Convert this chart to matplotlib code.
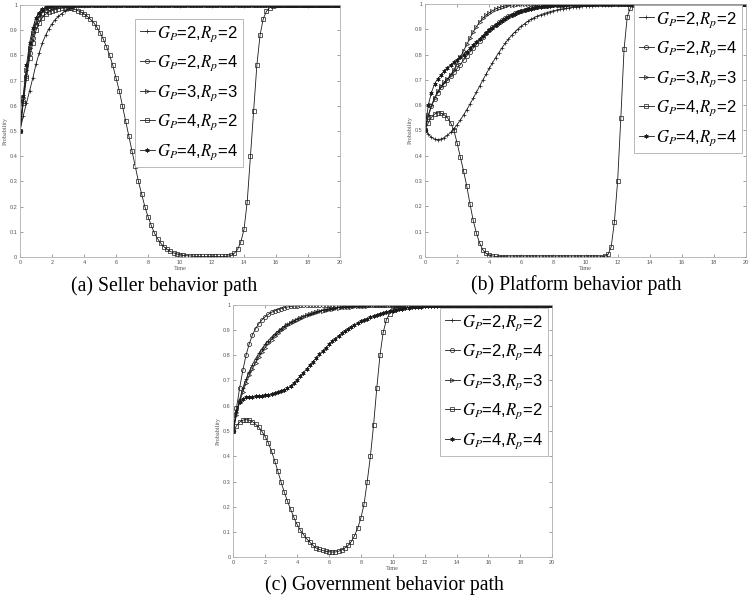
import numpy as np
import matplotlib
matplotlib.use("Agg")
import matplotlib.pyplot as plt

plt.rcParams['mathtext.fontset'] = 'stix'
plt.rcParams['font.family'] = ['Liberation Sans', 'DejaVu Sans']

# time grid, step 0.2 (each row below = 2 time units)
t = np.round(np.arange(0, 20.01, 0.2), 1)

labels = [r'$G_P$=2,$R_p$=2', r'$G_P$=2,$R_p$=4', r'$G_P$=3,$R_p$=3',
          r'$G_P$=4,$R_p$=2', r'$G_P$=4,$R_p$=4']
markers = ['+', 'o', '>', 's', (6, 2, 0)]
captions = ['(a) Seller behavior path', '(b) Platform behavior path',
            '(c) Government behavior path']

# ---- (a) seller
seller_2_2 = [0.5, 0.56, 0.61, 0.66, 0.71, 0.765, 0.81, 0.85, 0.88, 0.905,
              0.925, 0.942, 0.955, 0.966, 0.975, 0.983, 0.989, 0.993, 0.996, 0.998,
              1, 1, 1, 1, 1, 1, 1, 1, 1, 1,
              1, 1, 1, 1, 1, 1, 1, 1, 1, 1,
              1, 1, 1, 1, 1, 1, 1, 1, 1, 1,
              1, 1, 1, 1, 1, 1, 1, 1, 1, 1,
              1, 1, 1, 1, 1, 1, 1, 1, 1, 1,
              1, 1, 1, 1, 1, 1, 1, 1, 1, 1,
              1, 1, 1, 1, 1, 1, 1, 1, 1, 1,
              1, 1, 1, 1, 1, 1, 1, 1, 1, 1, 1]
seller_2_4 = [0.5, 0.62, 0.72, 0.81, 0.87, 0.92, 0.95, 0.97, 0.98, 0.988,
              0.992, 0.995, 0.997, 0.999, 1, 1, 1, 1, 1, 1,
              1, 1, 1, 1, 1, 1, 1, 1, 1, 1,
              1, 1, 1, 1, 1, 1, 1, 1, 1, 1,
              1, 1, 1, 1, 1, 1, 1, 1, 1, 1,
              1, 1, 1, 1, 1, 1, 1, 1, 1, 1,
              1, 1, 1, 1, 1, 1, 1, 1, 1, 1,
              1, 1, 1, 1, 1, 1, 1, 1, 1, 1,
              1, 1, 1, 1, 1, 1, 1, 1, 1, 1,
              1, 1, 1, 1, 1, 1, 1, 1, 1, 1, 1]
seller_3_3 = [0.5, 0.63, 0.74, 0.83, 0.89, 0.93, 0.96, 0.975, 0.985, 0.99,
              0.994, 0.997, 0.999, 1, 1, 1, 1, 1, 1, 1,
              1, 1, 1, 1, 1, 1, 1, 1, 1, 1,
              1, 1, 1, 1, 1, 1, 1, 1, 1, 1,
              1, 1, 1, 1, 1, 1, 1, 1, 1, 1,
              1, 1, 1, 1, 1, 1, 1, 1, 1, 1,
              1, 1, 1, 1, 1, 1, 1, 1, 1, 1,
              1, 1, 1, 1, 1, 1, 1, 1, 1, 1,
              1, 1, 1, 1, 1, 1, 1, 1, 1, 1,
              1, 1, 1, 1, 1, 1, 1, 1, 1, 1, 1]
seller_4_2 = [0.5, 0.61, 0.71, 0.79, 0.85, 0.9, 0.93, 0.95, 0.963, 0.972,
              0.978, 0.982, 0.985, 0.987, 0.988, 0.988, 0.986, 0.983, 0.978, 0.972,
              0.965, 0.955, 0.943, 0.93, 0.912, 0.89, 0.865, 0.835, 0.8, 0.76,
              0.71, 0.66, 0.6, 0.54, 0.48, 0.42, 0.36, 0.3, 0.25, 0.2,
              0.16, 0.125, 0.095, 0.072, 0.054, 0.04, 0.03, 0.022, 0.016, 0.012,
              0.009, 0.006, 0.005, 0.004, 0.003, 0.002, 0.002, 0.002, 0.002, 0.002,
              0.002, 0.002, 0.002, 0.002, 0.002, 0.003, 0.006, 0.015, 0.03, 0.06,
              0.11, 0.22, 0.4, 0.58, 0.76, 0.88, 0.945, 0.975, 0.989, 0.995,
              0.998, 1, 1, 1, 1, 1, 1, 1, 1, 1,
              1, 1, 1, 1, 1, 1, 1, 1, 1, 1, 1]
seller_4_4 = [0.5, 0.64, 0.76, 0.85, 0.91, 0.95, 0.97, 0.983, 0.99, 0.995,
              0.997, 0.999, 1, 1, 1, 1, 1, 1, 1, 1,
              1, 1, 1, 1, 1, 1, 1, 1, 1, 1,
              1, 1, 1, 1, 1, 1, 1, 1, 1, 1,
              1, 1, 1, 1, 1, 1, 1, 1, 1, 1,
              1, 1, 1, 1, 1, 1, 1, 1, 1, 1,
              1, 1, 1, 1, 1, 1, 1, 1, 1, 1,
              1, 1, 1, 1, 1, 1, 1, 1, 1, 1,
              1, 1, 1, 1, 1, 1, 1, 1, 1, 1,
              1, 1, 1, 1, 1, 1, 1, 1, 1, 1, 1]

# ---- (b) platform
platform_2_2 = [0.5, 0.485, 0.473, 0.466, 0.464, 0.466, 0.472, 0.481, 0.493, 0.507,
                0.523, 0.541, 0.561, 0.582, 0.604, 0.627, 0.651, 0.675, 0.699, 0.722,
                0.745, 0.767, 0.788, 0.808, 0.827, 0.845, 0.861, 0.876, 0.889, 0.901,
                0.912, 0.922, 0.931, 0.939, 0.946, 0.952, 0.957, 0.962, 0.966, 0.97,
                0.973, 0.976, 0.979, 0.981, 0.983, 0.985, 0.987, 0.988, 0.989, 0.99,
                0.991, 0.992, 0.993, 0.994, 0.995, 0.996, 0.996, 0.997, 0.997, 0.998,
                0.998, 0.998, 0.999, 0.999, 0.999, 1, 1, 1, 1, 1,
                1, 1, 1, 1, 1, 1, 1, 1, 1, 1,
                1, 1, 1, 1, 1, 1, 1, 1, 1, 1,
                1, 1, 1, 1, 1, 1, 1, 1, 1, 1, 1]
platform_2_4 = [0.5, 0.555, 0.595, 0.625, 0.65, 0.67, 0.685, 0.7, 0.715, 0.73,
                0.745, 0.76, 0.778, 0.795, 0.81, 0.825, 0.84, 0.855, 0.87, 0.885,
                0.897, 0.908, 0.918, 0.928, 0.937, 0.945, 0.952, 0.958, 0.964, 0.969,
                0.973, 0.977, 0.98, 0.983, 0.986, 0.988, 0.99, 0.992, 0.993, 0.994,
                0.995, 0.996, 0.997, 0.997, 0.998, 0.998, 0.999, 0.999, 0.999, 1,
                1, 1, 1, 1, 1, 1, 1, 1, 1, 1,
                1, 1, 1, 1, 1, 1, 1, 1, 1, 1,
                1, 1, 1, 1, 1, 1, 1, 1, 1, 1,
                1, 1, 1, 1, 1, 1, 1, 1, 1, 1,
                1, 1, 1, 1, 1, 1, 1, 1, 1, 1, 1]
platform_3_3 = [0.5, 0.56, 0.6, 0.63, 0.655, 0.675, 0.69, 0.705, 0.72, 0.74,
                0.765, 0.79, 0.815, 0.84, 0.865, 0.89, 0.91, 0.928, 0.943, 0.955,
                0.965, 0.973, 0.98, 0.985, 0.989, 0.992, 0.994, 0.996, 0.997, 0.998,
                0.999, 1, 1, 1, 1, 1, 1, 1, 1, 1,
                1, 1, 1, 1, 1, 1, 1, 1, 1, 1,
                1, 1, 1, 1, 1, 1, 1, 1, 1, 1,
                1, 1, 1, 1, 1, 1, 1, 1, 1, 1,
                1, 1, 1, 1, 1, 1, 1, 1, 1, 1,
                1, 1, 1, 1, 1, 1, 1, 1, 1, 1,
                1, 1, 1, 1, 1, 1, 1, 1, 1, 1, 1]
platform_4_2 = [0.5, 0.53, 0.552, 0.565, 0.57, 0.568, 0.562, 0.55, 0.53, 0.5,
                0.45, 0.395, 0.34, 0.28, 0.21, 0.145, 0.095, 0.055, 0.028, 0.014,
                0.007, 0.004, 0.002, 0.001, 0.001, 0.001, 0, 0, 0, 0,
                0, 0, 0, 0, 0, 0, 0, 0, 0, 0,
                0, 0, 0, 0, 0, 0, 0, 0, 0, 0,
                0, 0, 0, 0, 0, 0.001, 0.003, 0.01, 0.04, 0.14,
                0.3, 0.55, 0.82, 0.95, 0.985, 0.996, 0.999, 1, 1, 1,
                1, 1, 1, 1, 1, 1, 1, 1, 1, 1,
                1, 1, 1, 1, 1, 1, 1, 1, 1, 1,
                1, 1, 1, 1, 1, 1, 1, 1, 1, 1, 1]
platform_4_4 = [0.5, 0.6, 0.65, 0.685, 0.705, 0.72, 0.735, 0.748, 0.76, 0.77,
                0.78, 0.79, 0.8, 0.812, 0.825, 0.838, 0.851, 0.863, 0.875, 0.886,
                0.896, 0.906, 0.916, 0.925, 0.934, 0.942, 0.95, 0.956, 0.962, 0.967,
                0.972, 0.976, 0.979, 0.982, 0.985, 0.987, 0.989, 0.991, 0.992, 0.993,
                0.994, 0.995, 0.996, 0.997, 0.997, 0.998, 0.998, 0.999, 0.999, 1,
                1, 1, 1, 1, 1, 1, 1, 1, 1, 1,
                1, 1, 1, 1, 1, 1, 1, 1, 1, 1,
                1, 1, 1, 1, 1, 1, 1, 1, 1, 1,
                1, 1, 1, 1, 1, 1, 1, 1, 1, 1,
                1, 1, 1, 1, 1, 1, 1, 1, 1, 1, 1]

# ---- (c) government
gov_2_2 = [0.5, 0.57, 0.625, 0.67, 0.705, 0.735, 0.762, 0.786, 0.807, 0.826,
           0.843, 0.858, 0.872, 0.884, 0.895, 0.905, 0.914, 0.922, 0.93, 0.937,
           0.943, 0.949, 0.954, 0.959, 0.964, 0.968, 0.972, 0.975, 0.978, 0.981,
           0.983, 0.985, 0.987, 0.989, 0.99, 0.991, 0.992, 0.993, 0.994, 0.995,
           0.996, 0.996, 0.997, 0.997, 0.998, 0.998, 0.998, 0.999, 0.999, 0.999,
           1, 1, 1, 1, 1, 1, 1, 1, 1, 1,
           1, 1, 1, 1, 1, 1, 1, 1, 1, 1,
           1, 1, 1, 1, 1, 1, 1, 1, 1, 1,
           1, 1, 1, 1, 1, 1, 1, 1, 1, 1,
           1, 1, 1, 1, 1, 1, 1, 1, 1, 1, 1]
gov_2_4 = [0.5, 0.59, 0.67, 0.74, 0.8, 0.845, 0.88, 0.905, 0.925, 0.94,
           0.952, 0.962, 0.97, 0.976, 0.981, 0.985, 0.988, 0.991, 0.993, 0.995,
           0.996, 0.997, 0.998, 0.998, 0.999, 0.999, 1, 1, 1, 1,
           1, 1, 1, 1, 1, 1, 1, 1, 1, 1,
           1, 1, 1, 1, 1, 1, 1, 1, 1, 1,
           1, 1, 1, 1, 1, 1, 1, 1, 1, 1,
           1, 1, 1, 1, 1, 1, 1, 1, 1, 1,
           1, 1, 1, 1, 1, 1, 1, 1, 1, 1,
           1, 1, 1, 1, 1, 1, 1, 1, 1, 1,
           1, 1, 1, 1, 1, 1, 1, 1, 1, 1, 1]
gov_3_3 = [0.5, 0.565, 0.615, 0.655, 0.69, 0.72, 0.746, 0.77, 0.792, 0.812,
           0.83, 0.847, 0.862, 0.876, 0.888, 0.899, 0.909, 0.918, 0.926, 0.934,
           0.941, 0.947, 0.953, 0.958, 0.963, 0.967, 0.971, 0.974, 0.977, 0.98,
           0.982, 0.984, 0.986, 0.988, 0.989, 0.99, 0.991, 0.992, 0.993, 0.994,
           0.995, 0.996, 0.996, 0.997, 0.997, 0.998, 0.998, 0.999, 0.999, 0.999,
           1, 1, 1, 1, 1, 1, 1, 1, 1, 1,
           1, 1, 1, 1, 1, 1, 1, 1, 1, 1,
           1, 1, 1, 1, 1, 1, 1, 1, 1, 1,
           1, 1, 1, 1, 1, 1, 1, 1, 1, 1,
           1, 1, 1, 1, 1, 1, 1, 1, 1, 1, 1]
gov_4_2 = [0.5, 0.52, 0.535, 0.543, 0.545, 0.543, 0.537, 0.527, 0.515, 0.498,
           0.478, 0.453, 0.42, 0.382, 0.34, 0.298, 0.258, 0.222, 0.19, 0.158,
           0.13, 0.108, 0.09, 0.074, 0.06, 0.047, 0.037, 0.031, 0.027, 0.024,
           0.022, 0.021, 0.021, 0.024, 0.029, 0.037, 0.047, 0.062, 0.085, 0.115,
           0.155, 0.21, 0.3, 0.4, 0.525, 0.67, 0.8, 0.89, 0.94, 0.965,
           0.98, 0.988, 0.993, 0.996, 0.998, 0.999, 1, 1, 1, 1,
           1, 1, 1, 1, 1, 1, 1, 1, 1, 1,
           1, 1, 1, 1, 1, 1, 1, 1, 1, 1,
           1, 1, 1, 1, 1, 1, 1, 1, 1, 1,
           1, 1, 1, 1, 1, 1, 1, 1, 1, 1, 1]
gov_4_4 = [0.5, 0.58, 0.615, 0.627, 0.633, 0.635, 0.636, 0.637, 0.638, 0.64,
           0.641, 0.643, 0.646, 0.649, 0.653, 0.657, 0.662, 0.669, 0.678, 0.69,
           0.703, 0.717, 0.731, 0.746, 0.761, 0.775, 0.789, 0.803, 0.817, 0.83,
           0.843, 0.855, 0.866, 0.877, 0.887, 0.896, 0.905, 0.913, 0.92, 0.927,
           0.934, 0.94, 0.945, 0.95, 0.955, 0.96, 0.964, 0.968, 0.971, 0.974,
           0.977, 0.98, 0.982, 0.984, 0.986, 0.988, 0.989, 0.99, 0.991, 0.992,
           0.993, 0.994, 0.995, 0.995, 0.996, 0.996, 0.997, 0.997, 0.997, 0.998,
           0.998, 0.998, 0.998, 0.999, 0.999, 0.999, 0.999, 0.999, 1, 1,
           1, 1, 1, 1, 1, 1, 1, 1, 1, 1,
           1, 1, 1, 1, 1, 1, 1, 1, 1, 1, 1]

panels = [
    [seller_2_2, seller_2_4, seller_3_3, seller_4_2, seller_4_4],
    [platform_2_2, platform_2_4, platform_3_3, platform_4_2, platform_4_4],
    [gov_2_2, gov_2_4, gov_3_3, gov_4_2, gov_4_4],
]

# axes boxes [left, bottom, width, height] in figure fraction
boxes = [[0.0267, 0.571, 0.4267, 0.4207],
         [0.5667, 0.571, 0.428, 0.4224],
         [0.311, 0.0696, 0.4253, 0.4217]]
legend_anchor = [(0.697, 0.944), (0.9875, 0.996), (0.9865, 0.987)]
caption_pos = [(0.219, 0.522), (0.768, 0.524), (0.512, 0.023)]

fig = plt.figure(figsize=(7.5, 5.99), dpi=100)
for k in range(3):
    ax = fig.add_axes(boxes[k])
    for i in range(5):
        ax.plot(t, panels[k][i], color='#1a1a1a', lw=0.6, marker=markers[i],
                ms=3, mew=0.5, mfc='none', label=labels[i])
    ax.set_xlim(0, 20)
    ax.set_ylim(0, 1)
    xt = np.arange(0, 21, 2)
    yt = np.round(np.arange(0, 1.01, 0.1), 1)
    ax.set_xticks(xt)
    ax.set_yticks(yt)
    ax.set_xticklabels([f'{v:g}' for v in xt])
    ax.set_yticklabels([f'{v:g}' for v in yt])
    ax.tick_params(direction='in', length=2, width=0.4, labelsize=4,
                   colors='#555555', top=True, right=True, pad=2)
    for s in ax.spines.values():
        s.set_color('#b0b0b0')
        s.set_linewidth(0.6)
    ax.set_xlabel('Time', family='Liberation Serif', fontsize=4.5,
                  color='#555555', labelpad=1)
    ax.set_ylabel('Probability', family='Liberation Serif', fontsize=4.5,
                  color='#555555', labelpad=1)
    leg = ax.legend(loc='upper right', bbox_to_anchor=legend_anchor[k],
                    fontsize=12, handlelength=0.9, handletextpad=0.15,
                    labelspacing=0.6, borderpad=0.3, borderaxespad=0,
                    fancybox=False, framealpha=1)
    leg.get_frame().set_edgecolor('#b0b0b0')
    leg.get_frame().set_linewidth(0.6)
    fig.text(caption_pos[k][0], caption_pos[k][1], captions[k], ha='center',
             va='center', family='Liberation Serif', fontsize=14.2)

fig.savefig('out.png', dpi=100)
